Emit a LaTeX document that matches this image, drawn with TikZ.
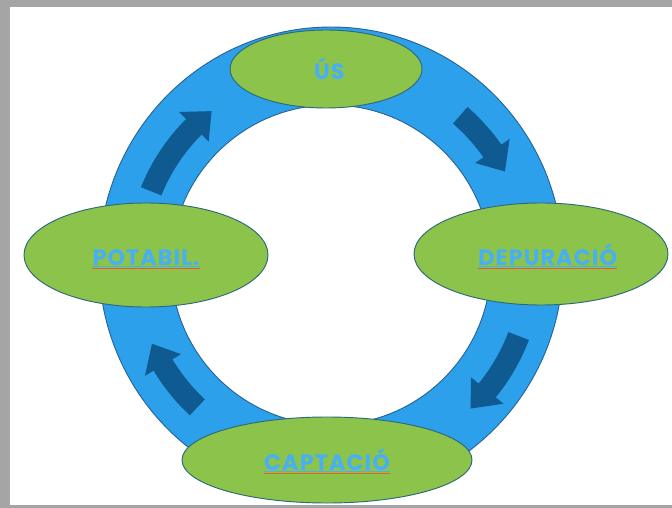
\documentclass[tikz,border=0pt]{standalone}
\usepackage{fontspec}
\usetikzlibrary{shapes.geometric}
\newfontfamily\stagefont{Poppins}[LetterSpace=5]
\definecolor{bordergray}{RGB}{165,165,165}
\definecolor{ringblue}{RGB}{45,160,235}
\definecolor{ringline}{RGB}{40,100,150}
\definecolor{stagegreen}{RGB}{140,195,75}
\definecolor{stageline}{RGB}{45,105,120}
\definecolor{arrowblue}{RGB}{15,90,145}
\definecolor{textblue}{RGB}{70,175,245}
\definecolor{spellred}{RGB}{235,90,40}
% curved block arrow: start angle, tip angle, radius
\newcommand{\cyclearrow}[3]{%
\fill[arrowblue] (#1:#3+11) arc[start angle=#1, end angle=#2+7, radius=#3+11]
  -- (#2+7:#3+21) -- (#2:#3) -- (#2+7:#3-21) -- (#2+7:#3-11)
  arc[start angle=#2+7, end angle=#1, radius=#3-11] -- cycle;}

\begin{document}
\begin{tikzpicture}[x=0.03cm, y=0.03cm,
  ring/.style={fill=ringblue, draw=ringline, line width=0.8pt, even odd rule},
  stage/.style={ellipse, fill=stagegreen, draw=stageline, line width=0.8pt, inner sep=0pt},
  stagelabel/.style={anchor=base, inner sep=0pt, text=textblue, font=\stagefont\bfseries\fontsize{19}{22}\selectfont},
  spellline/.style={draw=spellred, line width=1pt}]
%background
\useasboundingbox (0,0) rectangle (672,-508);
\fill[bordergray] (0,0) rectangle (672,-508);
\fill[white] (10,-7) rectangle (672,-505);
%ring
\path[ring] (331,-262) ellipse[x radius=232, y radius=235] (331,-265) circle[radius=160];
%arrows
\begin{scope}[shift={(331,-264)}]
\cyclearrow{158}{128}{194}
\cyclearrow{49}{28}{197}
\cyclearrow{-21}{-46}{201}
\cyclearrow{227}{204}{196}
\end{scope}
%stages
\node[stage, minimum width=5.76cm, minimum height=2.34cm] (us) at (326,-69) {};
\node[stage, minimum width=7.62cm, minimum height=3.06cm] (depuracio) at (541,-254) {};
\node[stage, minimum width=8.7cm, minimum height=2.58cm] (captacio) at (327,-460) {};
\node[stage, minimum width=7.32cm, minimum height=3.12cm] (potabil) at (146,-255) {};
%labels
\node[stagelabel] (usTxt) at ([xshift=0.1cm, yshift=-0.33cm]us.center) {ÚS};
\node[stagelabel] (depTxt) at ([xshift=0.2cm, yshift=-0.33cm]depuracio.center) {DEPURACIÓ};
\node[stagelabel] (capTxt) at ([yshift=-0.3cm]captacio.center) {CAPTACIÓ};
\node[stagelabel] (potTxt) at ([yshift=-0.3cm]potabil.center) {POTABIL.};
%underlines
\foreach \t in {depTxt, capTxt, potTxt} {
  \draw[textblue, line width=0.8pt] ([yshift=-1.5pt]\t.base west) -- ([yshift=-1.5pt]\t.base east);
  \draw[spellline] ([yshift=-3pt]\t.base west) -- ([yshift=-3pt]\t.base east);
}
\end{tikzpicture}
\end{document}
